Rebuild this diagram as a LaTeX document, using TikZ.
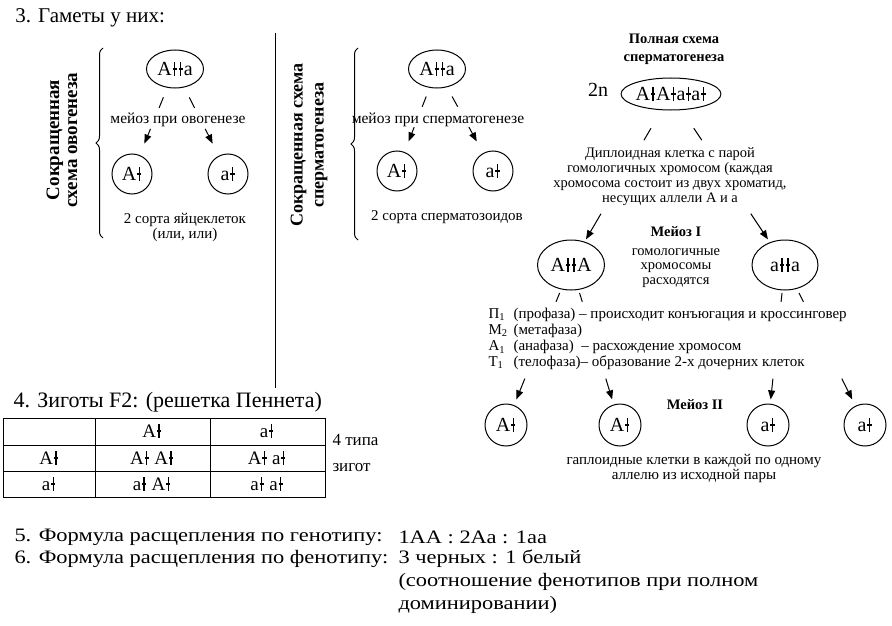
\documentclass[tikz,border=0pt]{standalone}
\usepackage{fontspec}
\setmainfont{Liberation Serif}
\newfontfamily\widefont[FakeStretch=1.18]{Liberation Serif}
\usetikzlibrary{shapes.geometric,arrows.meta,calc,decorations.pathreplacing}
\newcommand\chr{\kern0.04em\ooalign{\hfil\rule[-0.01em]{0.07em}{0.7em}\hfil\cr\hfil\raisebox{0.28em}{\rule{0.22em}{0.1em}}\hfil\cr}\kern0.04em}
\newcommand\fsz[2]{\fontsize{#1}{#2}\selectfont}
% broken link: plain piece t1..t2, arrow piece t3..t4
\newcommand\link[6]{%
  \draw ($(#1)!#3!(#2)$) -- ($(#1)!#4!(#2)$);
  \draw[arr] ($(#1)!#5!(#2)$) -- ($(#1)!#6!(#2)$);}
\tikzset{
  cell/.style={
    draw,
    shape = ellipse,
    inner sep = 0pt,
    font = \fsz{20}{22}
  },
  gamete/.style={
    draw,
    shape = circle,
    minimum size = 40pt,
    inner sep = 0pt,
    font = \fsz{20}{22}
  },
  head/.style={
    anchor = west,
    inner sep = 0pt,
    font = \fsz{22}{24}
  },
  line/.style={
    head,
    font = \widefont\fsz{19}{21}
  },
  note/.style={
    inner sep = 0pt,
    align = center,
    font = \fsz{15}{15}
  },
  bnote/.style={
    note,
    font = \fsz{14.5}{18}\bfseries
  },
  phase/.style={
    anchor = west,
    inner sep = 0pt,
    font = \fsz{15}{17}
  },
  tab/.style={
    inner sep = 0pt,
    font = \fsz{19}{20}
  },
  side/.style={
    rotate = 90,
    inner sep = 0pt,
    align = center,
    font = \fsz{19}{18}\bfseries
  },
  arr/.style={
    -{Triangle[length=9pt,width=7pt]}
  },
  brace/.style={
    decorate,
    decoration = {brace, amplitude=7pt}
  },
}
\begin{document}
\begin{tikzpicture}[x=1pt, y=-1pt, line width=1pt]
  \useasboundingbox (0,0) rectangle (892,626);

  % 3. gametes
  \node[head, font=\fsz{21}{23}] (t3) at (15,18) {3. Гаметы у них:};
  \draw (275,33) -- (275,388);

  % short scheme, oogenesis
  \node[side] (sideo) at (62,140) {Сокращенная\\схема овогенеза};
  \draw[brace] (103,238) -- (103,48);
  \node[cell, minimum width=57pt, minimum height=38pt] (ovo) at (175,69) {A\chr\chr a};
  \node[gamete] (ovoA) at (132,174) {A\chr};
  \node[gamete] (ovoa) at (228,174) {a\chr};
  \node[note, font=\fsz{15.5}{16}] (mo) at (178,120) {мейоз при овогенезе};
  \link{ovo}{ovoA}{0.27}{0.37}{0.57}{0.71}
  \link{ovo}{ovoa}{0.27}{0.37}{0.57}{0.71}
  \node[note] (so) at (185,220) {2 сорта яйцеклеток};
  \node[note] (oo) at (185,235) {(или, или)};

  % short scheme, spermatogenesis
  \node[side, font=\fsz{18}{21}\bfseries] (sides) at (309,145) {Сокращенная схема\\сперматогенеза};
  \draw[brace] (358,240) -- (358,48);
  \node[cell, minimum width=57pt, minimum height=38pt] (sp) at (437,69) {A\chr\chr a};
  \node[gamete] (spA) at (397,171) {A\chr};
  \node[gamete] (spa) at (493,171) {a\chr};
  \node[note, font=\fsz{15.5}{16}] (ms) at (438,120) {мейоз при сперматогенезе};
  \link{sp}{spA}{0.27}{0.37}{0.57}{0.71}
  \link{sp}{spa}{0.27}{0.37}{0.57}{0.71}
  \node[note] (ss) at (447,217) {2 сорта сперматозоидов};

  % full scheme of spermatogenesis
  \node[bnote] (full) at (674,49) {Полная схема\\сперматогенеза};
  \node[inner sep=0pt, font=\fsz{20}{22}] (twon) at (598,90) {2n};
  \node[cell, minimum width=88pt, minimum height=32pt] (dip) at (671,94) {A\chr A\chr a\chr a\chr};
  \node[note, font=\fsz{14.5}{15}] (dtxt) at (670,177) {Диплоидная клетка с парой\\гомологичных хромосом (каждая\\хромосома состоит из двух хроматид,\\несущих аллели А и а};
  \node[cell, minimum width=67pt, minimum height=50pt] (AA) at (571,265) {A\chr\chr A};
  \node[cell, minimum width=66pt, minimum height=50pt] (aa) at (785,265) {a\chr\chr a};
  \link{dip}{AA}{0.2}{0.27}{0.7}{0.85}
  \link{dip}{aa}{0.2}{0.27}{0.7}{0.85}
  \node[bnote] (m1) at (676,232) {Мейоз I};
  \node[note, font=\fsz{14.5}{14.5}] (m1t) at (676,268) {гомологичные\\хромосомы\\расходятся};

  \node[phase] (p1) at (488,315) {П\textsubscript{1}};
  \node[phase] (p1t) at (513,315) {(профаза) -- происходит конъюгация и кроссинговер};
  \node[phase] (p2) at (488,331) {М\textsubscript{2}};
  \node[phase] (p2t) at (513,331) {(метафаза)};
  \node[phase] (p3) at (488,347) {А\textsubscript{1}};
  \node[phase] (p3t) at (513,347) {(анафаза)\ \ -- расхождение хромосом};
  \node[phase] (p4) at (488,363) {Т\textsubscript{1}};
  \node[phase] (p4t) at (513,363) {(телофаза)-- образование 2-х дочерних клеток};

  \node[gamete, minimum size=42pt] (g1) at (506,425) {A\chr};
  \node[gamete, minimum size=42pt] (g2) at (620,425) {A\chr};
  \node[gamete, minimum size=42pt] (g3) at (768,425) {a\chr};
  \node[gamete, minimum size=42pt] (g4) at (865,425) {a\chr};
  \link{AA}{g1}{0.175}{0.23}{0.71}{0.84}
  \link{AA}{g2}{0.175}{0.23}{0.71}{0.84}
  \link{aa}{g3}{0.175}{0.23}{0.71}{0.84}
  \link{aa}{g4}{0.175}{0.23}{0.71}{0.84}
  \node[bnote] (m2) at (695,405) {Мейоз II};
  \node[note] (hap) at (694,468) {гаплоидные клетки в каждой по одному\\аллелю из исходной пары};

  % 4. zygotes
  \node[head] (t4) at (13,402) {4. Зиготы F2: (решетка Пеннета)};
  \draw (3,418) rectangle (325,497);
  \draw (3,445) -- (325,445);
  \draw (3,471) -- (325,471);
  \draw (95,418) -- (95,497);
  \draw (210,418) -- (210,497);
  \node[tab] (c12) at (152,431) {A\chr};
  \node[tab] (c13) at (267,431) {a\chr};
  \node[tab] (c21) at (49,458) {A\chr};
  \node[tab] (c22) at (152,458) {A\chr\ A\chr};
  \node[tab] (c23) at (267,458) {A\chr\ a\chr};
  \node[tab] (c31) at (49,484) {a\chr};
  \node[tab] (c32) at (152,484) {a\chr\ A\chr};
  \node[tab] (c33) at (267,484) {a\chr\ a\chr};
  \node[head, font=\fsz{17}{20}] (types) at (332,440) {4 типа};
  \node[head, font=\fsz{17}{20}] (zyg) at (332,468) {зигот};

  % 5, 6. formulas
  \node[line] (f5) at (14,537) {5. Формула расщепления по генотипу:};
  \node[line] (r5) at (398,537) {1АА : 2Аа : 1аа};
  \node[line] (f6) at (14,559) {6. Формула расщепления по фенотипу:};
  \node[line] (r6) at (398,559) {3 черных : 1 белый};
  \node[line] (r6a) at (398,582) {(соотношение фенотипов при полном};
  \node[line] (r6b) at (398,605) {доминировании)};
\end{tikzpicture}
\end{document}
